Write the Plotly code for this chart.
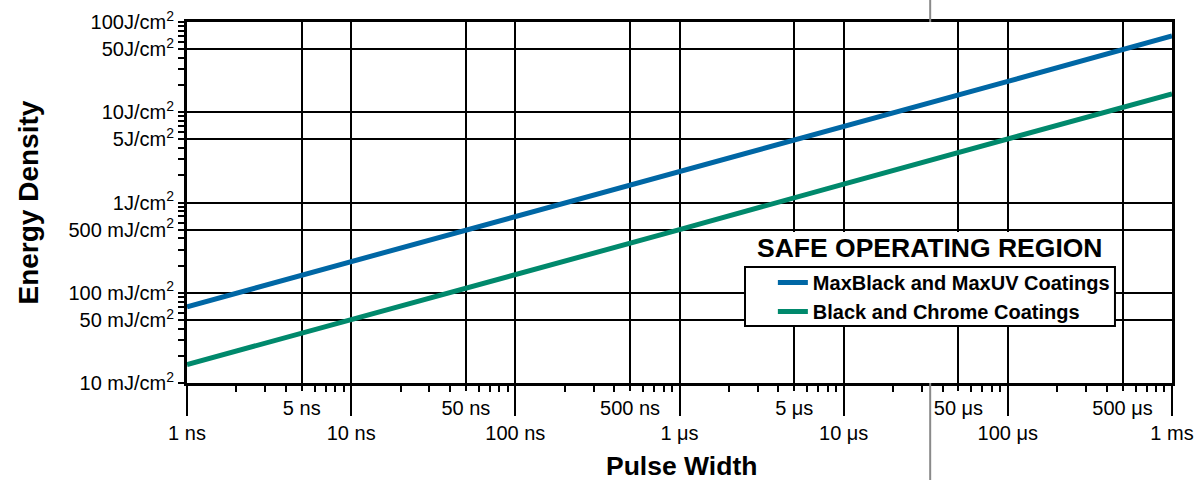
import plotly.graph_objects as go

# ---- data ----
pulse_width_s = [1e-9, 1e-8, 1e-7, 1e-6, 1e-5, 1e-4, 1e-3]
maxblack_J = [0.07, 0.22, 0.70, 2.2, 7.0, 22, 70]
black_chrome_J = [0.016, 0.05, 0.16, 0.50, 1.6, 5.0, 16]

series_names = ["MaxBlack and MaxUV Coatings", "Black and Chrome Coatings"]
series_colors = ["#0067a5", "#00896c"]

x_major_vals = [1e-9, 1e-8, 1e-7, 1e-6, 1e-5, 1e-4, 1e-3]
x_major_text = ["1 ns", "10 ns", "100 ns", "1 μs", "10 μs", "100 μs", "1 ms"]
x_five_vals = [5e-9, 5e-8, 5e-7, 5e-6, 5e-5, 5e-4]
x_five_text = ["5 ns", "50 ns", "500 ns", "5 μs", "50 μs", "500 μs"]

y_vals = [0.01, 0.05, 0.1, 0.5, 1, 5, 10, 50, 100]
y_text = ["10 mJ/cm<sup>2</sup>", "50 mJ/cm<sup>2</sup>", "100 mJ/cm<sup>2</sup>",
          "500 mJ/cm<sup>2</sup>", "1J/cm<sup>2</sup>", "5J/cm<sup>2</sup>",
          "10J/cm<sup>2</sup>", "50J/cm<sup>2</sup>", "100J/cm<sup>2</sup>"]

legend_title = "SAFE OPERATING REGION"
x_title = "Pulse Width"
y_title = "Energy Density"

minor_mults = [2, 3, 4, 6, 7, 8, 9]
x_minor = [m * d for d in x_major_vals[:-1] for m in minor_mults]
y_minor = [m * d for d in [0.01, 0.1, 1, 10] for m in minor_mults]

FONT = "Arial, 'Liberation Sans', Helvetica, sans-serif"

fig = go.Figure()
for name, yv, col in zip(series_names, [maxblack_J, black_chrome_J], series_colors):
    fig.add_trace(go.Scatter(x=pulse_width_s, y=yv, mode="lines", name=name,
                             line=dict(color=col, width=5)))
# invisible helper trace so the secondary x axis (5x ticks) is drawn
fig.add_trace(go.Scatter(x=pulse_width_s, y=maxblack_J, xaxis="x2", mode="lines",
                         line=dict(width=0, color="rgba(0,0,0,0)"), showlegend=False,
                         hoverinfo="skip"))

fig.update_layout(
    width=1196, height=480,
    margin=dict(l=187, r=24, t=22, b=97, autoexpand=False),
    paper_bgcolor="white", plot_bgcolor="white",
    font=dict(family=FONT, color="black", size=20),
    showlegend=True,
    legend=dict(x=0.942, xanchor="right", y=0.3324, yanchor="top",
                bgcolor="rgba(0,0,0,0)", borderwidth=0,
                font=dict(size=20, family=FONT, color="black", weight="bold"),
                tracegroupgap=0),
    xaxis=dict(type="log", range=[-9, -3], tickmode="array",
               tickvals=x_major_vals, ticktext=x_major_text,
               ticks="outside", ticklen=30, tickwidth=1.5, tickcolor="black",
               showgrid=True, gridcolor="black", gridwidth=1.5,
               showline=True, linewidth=3, linecolor="black", mirror=True,
               zeroline=False, tickfont=dict(size=20), automargin=False,
               minor=dict(tickmode="array", tickvals=x_minor, ticks="outside",
                          ticklen=6, tickwidth=1.5, tickcolor="black", showgrid=False)),
    xaxis2=dict(type="log", range=[-9, -3], overlaying="x", side="bottom",
                tickmode="array", tickvals=x_five_vals, ticktext=x_five_text,
                ticks="outside", ticklen=7, tickwidth=1.5, tickcolor="black",
                showgrid=True, gridcolor="black", gridwidth=1.5, automargin=False,
                showline=False, zeroline=False, tickfont=dict(size=20)),
    yaxis=dict(type="log", range=[-2, 2], tickmode="array",
               tickvals=y_vals, ticktext=y_text,
               ticks="outside", ticklen=6, tickwidth=1.5, tickcolor="black",
               showgrid=True, gridcolor="black", gridwidth=1.5,
               showline=True, linewidth=3, linecolor="black", mirror=True,
               zeroline=False, tickfont=dict(size=20), automargin=False,
               minor=dict(tickmode="array", tickvals=y_minor, ticks="outside",
                          ticklen=6, tickwidth=1.5, tickcolor="black", showgrid=False)),
)

# white panel behind legend title and legend box
fig.add_shape(type="rect", xref="paper", yref="paper",
              x0=0.5665, x1=0.9421, y0=0.1579, y1=0.418,
              fillcolor="white", line=dict(width=0), layer="above")
# legend frame
fig.add_shape(type="rect", xref="paper", yref="paper",
              x0=0.5665, x1=0.9421, y0=0.1579, y1=0.3213,
              fillcolor="white", line=dict(color="black", width=2), layer="above")

# stray gray guide line of the original artwork (outside the plot area)
for y0, y1 in [(1.0, 1.061), (-0.269, 0.0)]:
    fig.add_shape(type="line", xref="paper", yref="paper", x0=0.7545, x1=0.7545,
                  y0=y0, y1=y1, line=dict(color="#8a8a8a", width=2), layer="above")

fig.add_annotation(text=legend_title, xref="paper", yref="paper", x=0.754, y=0.374,
                   xanchor="center", yanchor="middle", showarrow=False,
                   font=dict(size=26.5, family=FONT, color="black", weight="bold"))
fig.add_annotation(text=x_title, xref="paper", yref="paper", x=0.5025, y=-0.2300,
                   xanchor="center", yanchor="middle", showarrow=False,
                   font=dict(size=26.5, family=FONT, color="black", weight="bold"))
fig.add_annotation(text=y_title, xref="paper", yref="paper", x=-0.1614, y=0.5,
                   xanchor="center", yanchor="middle",
                   textangle=-90, showarrow=False,
                   font=dict(size=28, family=FONT, color="black", weight="bold"))

fig.write_html("out.html", config={"displayModeBar": False},
               post_script="document.body.style.margin='0px';document.body.style.overflow='hidden';")
